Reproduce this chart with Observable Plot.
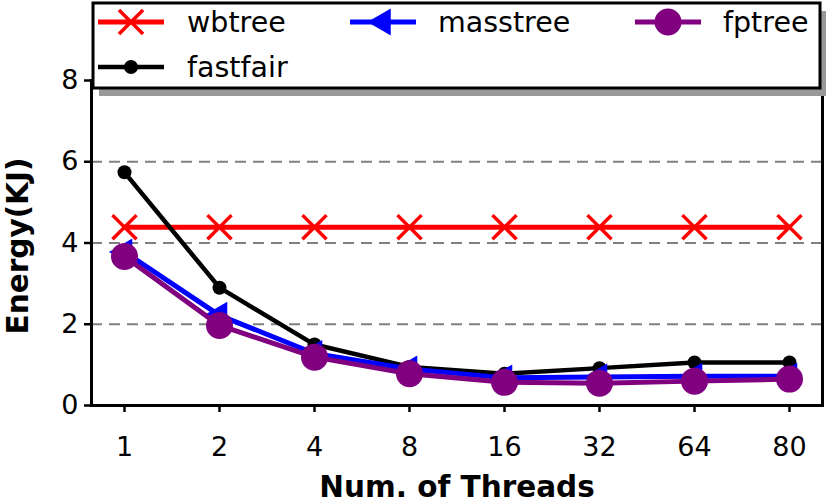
<!DOCTYPE html>
<html>
<head>
<meta charset="utf-8">
<script src="https://cdn.jsdelivr.net/npm/d3@7"></script>
<script src="https://cdn.jsdelivr.net/npm/@observablehq/plot@0.6"></script>
<style>
  html, body { margin: 0; padding: 0; background: #fff; }
  #wrap { position: relative; width: 830px; height: 502px; font-family: "DejaVu Sans", sans-serif; }
  #legend { position: absolute; left: 0; top: 0; }
</style>
</head>
<body>
<div id="wrap"></div>
<script>
const threads = ["1", "2", "4", "8", "16", "32", "64", "80"];
const wbtree   = [4.39, 4.39, 4.39, 4.39, 4.39, 4.39, 4.39, 4.39];
const masstree = [3.78, 2.22, 1.28, 0.90, 0.68, 0.70, 0.72, 0.72];
const fptree   = [3.67, 1.97, 1.19, 0.78, 0.57, 0.55, 0.60, 0.65];
const fastfair = [5.74, 2.90, 1.50, 0.95, 0.78, 0.92, 1.06, 1.06];
const yTicks = [0, 2, 4, 6, 8];
const gridValues = [2, 4, 6];
const xLabel = "Num. of Threads";
const yLabel = "Energy(KJ)";

const seriesDefs = [
  {name: "wbtree", values: wbtree, color: "#ff0000", symbol: "times", r: 11, rotate: 0, sw: 5},
  {name: "fastfair", values: fastfair, color: "#000000", symbol: "circle", r: 7, rotate: 0, sw: 4.5},
  {name: "masstree", values: masstree, color: "#0000ff", symbol: "triangle", r: 10, rotate: -90, sw: 5},
  {name: "fptree", values: fptree, color: "#800080", symbol: "circle", r: 13.5, rotate: 0, sw: 5}
];

const marks = [
  Plot.ruleY(gridValues, {stroke: "#808080", strokeWidth: 2, strokeDasharray: "11,7"})
];
for (const s of seriesDefs) {
  const data = threads.map((t, i) => ({t, v: s.values[i]}));
  marks.push(Plot.line(data, {x: "t", y: "v", stroke: s.color, strokeWidth: s.sw}));
  if (s.symbol === "times") {
    marks.push(Plot.dot(data, {x: "t", y: "v", symbol: "times", r: s.r, stroke: s.color, strokeWidth: 3.5}));
  } else {
    marks.push(Plot.dot(data, {x: "t", y: "v", symbol: s.symbol, r: s.r, fill: s.color, stroke: "none", rotate: s.rotate}));
  }
}
marks.push(
  Plot.frame({stroke: "black", strokeWidth: 3}),
  Plot.axisX({tickSize: 7, tickPadding: 24, fontSize: 27, label: null, strokeWidth: 2.5}),
  Plot.axisY({ticks: yTicks, tickSize: 7, tickPadding: 6, fontSize: 27, label: null, strokeWidth: 2.5}),
  Plot.text([xLabel], {frameAnchor: "bottom", dy: 91, fontSize: 29.5, fontWeight: "bold", fill: "black"}),
  Plot.text([yLabel], {frameAnchor: "left", textAnchor: "middle", dx: -73, dy: 3, rotate: -90, fontSize: 29.5, fontWeight: "bold", fill: "black"})
);

const chart = Plot.plot({
  width: 830,
  height: 502,
  marginLeft: 91,
  marginRight: 8,
  marginTop: 80,
  marginBottom: 97,
  style: {fontFamily: "DejaVu Sans, sans-serif", fontSize: "27px", color: "black", background: "white"},
  x: {type: "point", domain: threads, padding: 0.34},
  y: {domain: [0, 8]},
  marks
});
document.getElementById("wrap").appendChild(chart);

// Legend (matplotlib-style box with shadow), overlaid on top
const leg = d3.select("#wrap").append("svg")
  .attr("id", "legend").attr("width", 830).attr("height", 110);
const bx = 93, by = 3, bw = 727, bh = 85;
leg.append("rect").attr("x", bx + 6).attr("y", by + 8).attr("width", bw).attr("height", bh).attr("fill", "#999");
leg.append("rect").attr("x", bx).attr("y", by).attr("width", bw).attr("height", bh)
  .attr("fill", "white").attr("stroke", "black").attr("stroke-width", 3);
const legendOrder = [
  {s: seriesDefs[0], x: 98, tx: 187, y: 22},
  {s: seriesDefs[2], x: 350, tx: 438, y: 22},
  {s: seriesDefs[3], x: 635, tx: 723, y: 22},
  {s: seriesDefs[1], x: 98, tx: 187, y: 67}
];
const symMap = {times: d3.symbolTimes, circle: d3.symbolCircle, triangle: d3.symbolTriangle};
for (const item of legendOrder) {
  const s = item.s;
  const g = leg.append("g");
  g.append("line").attr("x1", item.x).attr("x2", item.x + 66).attr("y1", item.y).attr("y2", item.y)
    .attr("stroke", s.color).attr("stroke-width", s.sw);
  const path = d3.symbol(symMap[s.symbol], Math.PI * s.r * s.r)();
  const p = g.append("path").attr("d", path)
    .attr("transform", `translate(${item.x + 33},${item.y}) rotate(${s.rotate})`);
  if (s.symbol === "times") p.attr("fill", "none").attr("stroke", s.color).attr("stroke-width", 3.5);
  else p.attr("fill", s.color);
  g.append("text").attr("x", item.tx).attr("y", item.y).attr("dy", "0.36em")
    .attr("font-size", 28.5).attr("font-family", "DejaVu Sans, sans-serif").attr("fill", "black")
    .text(s.name);
}
</script>
</body>
</html>
